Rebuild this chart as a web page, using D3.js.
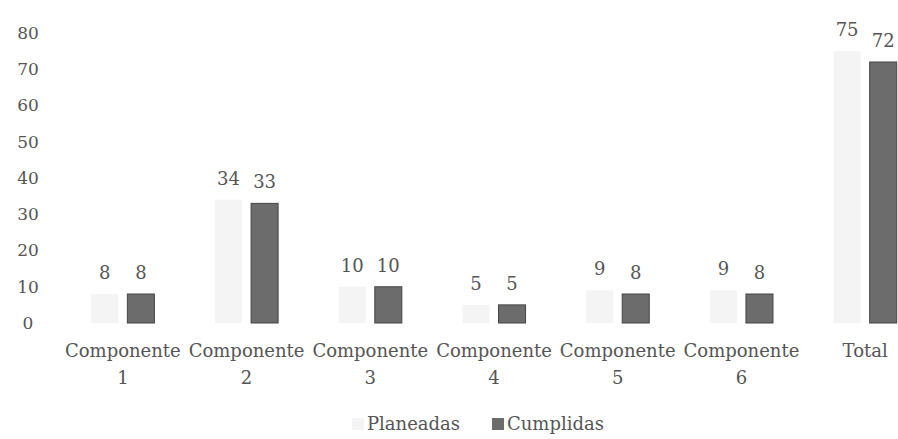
<!DOCTYPE html>
<html>
<head>
<meta charset="utf-8">
<script src="https://cdn.jsdelivr.net/npm/d3@7"></script>
<style>
  html, body { margin: 0; padding: 0; background: #fff; overflow: hidden; }
  text { font-family: "DejaVu Serif", serif; fill: #555; }
</style>
</head>
<body>
<div id="chart"></div>
<script>
// Data
const categories = ['Componente 1', 'Componente 2', 'Componente 3', 'Componente 4', 'Componente 5', 'Componente 6', 'Total'];
const series     = ['Planeadas', 'Cumplidas'];
const planeadas  = [8, 34, 10, 5, 9, 9, 75];
const cumplidas  = [8, 33, 10, 5, 8, 8, 72];
const yTicks     = [0, 10, 20, 30, 40, 50, 60, 70, 80];

const width  = 898;
const height = 439;
const fontSize = 17;

const colors = { Planeadas: '#f4f4f4', Cumplidas: '#6c6c6c' };
const strokes = { Planeadas: 'none', Cumplidas: '#454545' };

const svg = d3.select('#chart')
  .append('svg')
    .attr('width', width)
    .attr('height', height);

// Scales (plot runs past the right edge, as in the cropped original)
const x0 = d3.scaleBand()
  .domain(categories)
  .range([61, 927])
  .paddingInner(0.49)
  .paddingOuter(0.245);

const x1 = d3.scaleBand()
  .domain(series)
  .range([0, x0.bandwidth()])
  .paddingInner(0.25);

const y = d3.scaleLinear()
  .domain([0, 80])
  .range([323, 33]);

const rows = categories.map((c, i) => ({
  cat: c,
  values: [
    { key: 'Planeadas', value: planeadas[i] },
    { key: 'Cumplidas', value: cumplidas[i] }
  ]
}));

// Y axis labels only
const yAxis = svg.append('g')
  .call(d3.axisLeft(y).tickValues(yTicks).tickSize(0).tickFormat(d3.format('d')));
yAxis.select('.domain').remove();
yAxis.selectAll('text')
  .attr('x', 28)
  .attr('text-anchor', 'middle')
  .style('font-size', fontSize + 'px')
  .style('font-family', '"DejaVu Serif", serif')
  .attr('fill', '#555');

// Bars
const groups = svg.append('g')
  .selectAll('g')
  .data(rows)
  .join('g')
    .attr('transform', d => `translate(${x0(d.cat)},0)`);

groups.selectAll('rect')
  .data(d => d.values)
  .join('rect')
    .attr('x', d => x1(d.key))
    .attr('y', d => y(d.value))
    .attr('width', x1.bandwidth())
    .attr('height', d => y(0) - y(d.value))
    .attr('fill', d => colors[d.key])
    .attr('stroke', d => strokes[d.key])
    .attr('stroke-width', 1);

// Value labels
groups.selectAll('text.val')
  .data(d => d.values)
  .join('text')
    .attr('class', 'val')
    .attr('x', d => x1(d.key) + x1.bandwidth() / 2)
    .attr('y', d => y(d.value) - 15)
    .attr('text-anchor', 'middle')
    .style('font-size', (fontSize + 1) + 'px')
    .text(d => d.value);

// X axis category labels (wrapped on two lines)
const xAxis = svg.append('g')
  .attr('transform', `translate(0, ${y(0)})`)
  .call(d3.axisBottom(x0).tickSize(0).tickPadding(0));
xAxis.select('.domain').remove();
xAxis.selectAll('text')
  .style('font-size', (fontSize + 1) + 'px')
  .style('font-family', '"DejaVu Serif", serif')
  .attr('fill', '#555')
  .attr('y', 0)
  .attr('dy', null)
  .each(function(d) {
    const words = d.split(' ');
    const t = d3.select(this).text(null);
    words.forEach((w, i) => {
      t.append('tspan')
        .attr('x', 0)
        .attr('y', 34 + i * 27)
        .text(w);
    });
  });

// Legend
const legend = svg.append('g').attr('transform', 'translate(0, 430)');
const legendItems = [
  { key: 'Planeadas', sx: 352, tx: 367 },
  { key: 'Cumplidas', sx: 492, tx: 507 }
];
legend.selectAll('rect')
  .data(legendItems)
  .join('rect')
    .attr('x', d => d.sx)
    .attr('y', -12)
    .attr('width', 12)
    .attr('height', 12)
    .attr('fill', d => colors[d.key]);
legend.selectAll('text')
  .data(legendItems)
  .join('text')
    .attr('x', d => d.tx)
    .attr('y', 0)
    .style('font-size', (fontSize + 1) + 'px')
    .text(d => d.key);
</script>
</body>
</html>
